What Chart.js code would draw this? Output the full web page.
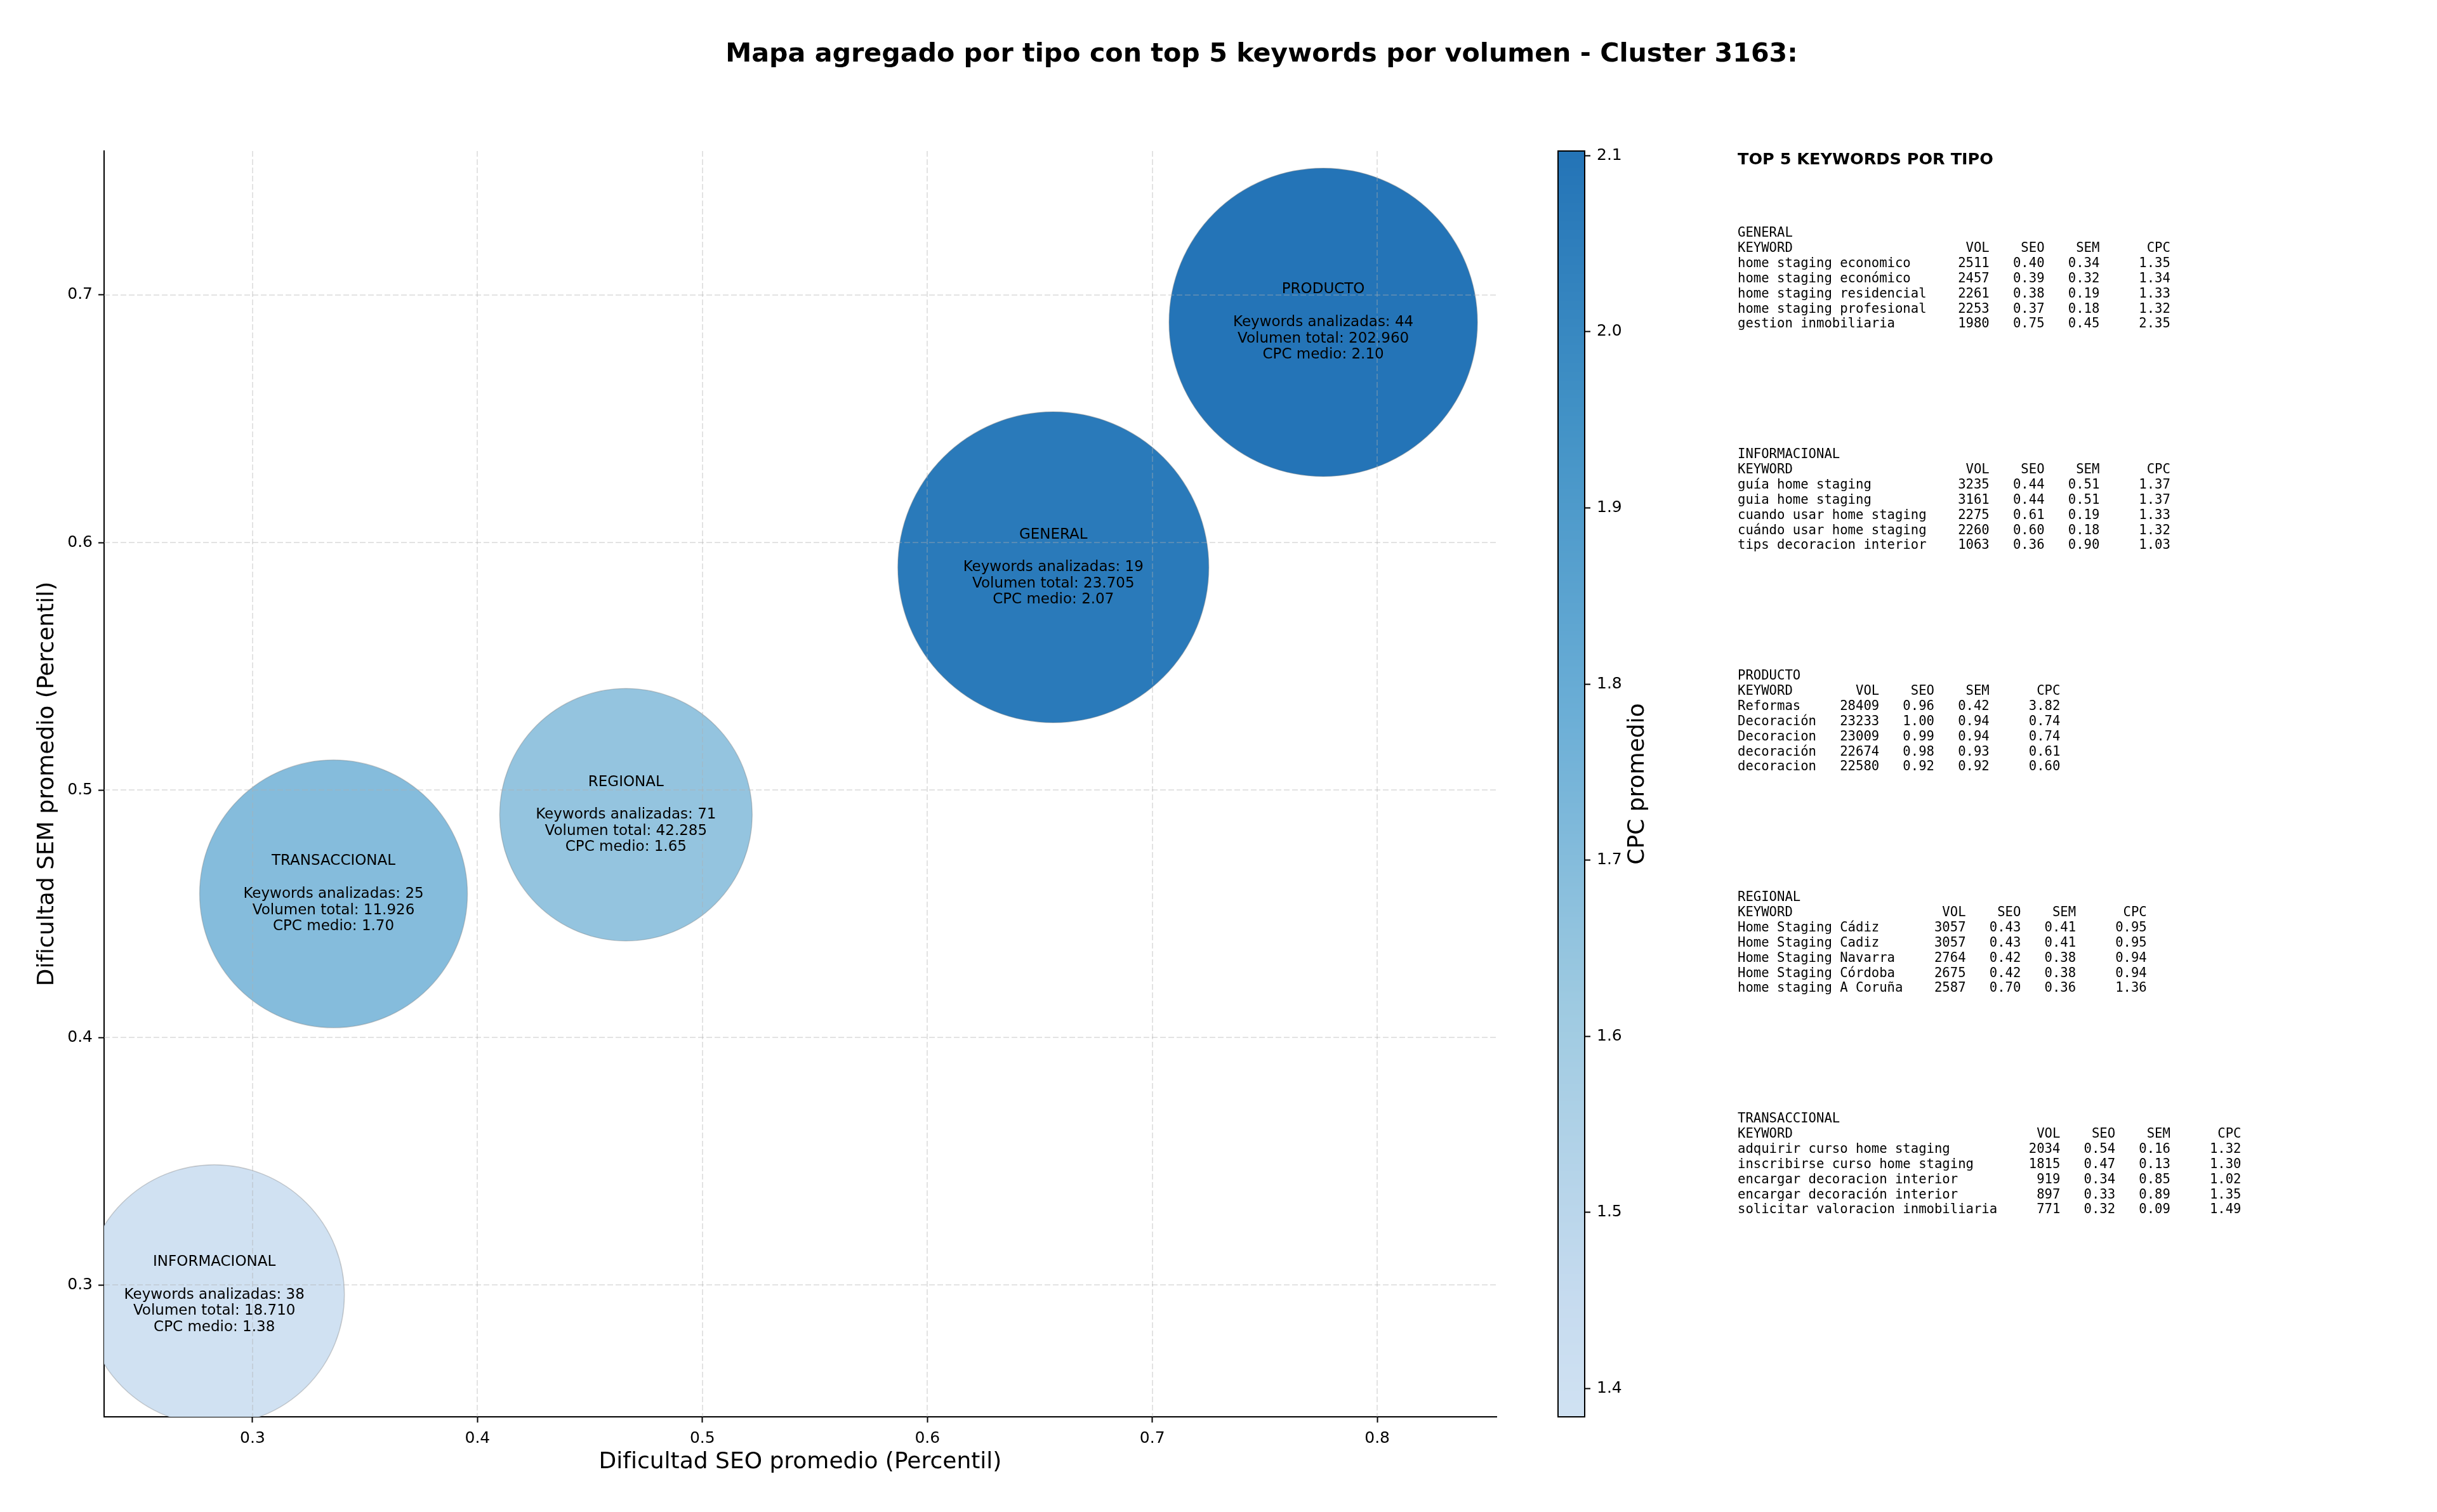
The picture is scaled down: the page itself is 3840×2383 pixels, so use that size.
<!DOCTYPE html>
<html lang="es">
<head>
  <meta charset="utf-8">
  <title>Mapa agregado por tipo - Cluster 3163</title>
  <script src="https://cdn.jsdelivr.net/npm/chart.js"></script>
  <style>
    html, body { margin: 0; padding: 0; background: #fff; }
    #wrap { position: relative; width: 3840px; height: 2383px; overflow: hidden; }
    #wrap canvas { position: absolute; top: 0; }
    #mapa { left: 0; }
    #barra { left: 2300px; }
  </style>
</head>
<body>
<div id="wrap">
  <canvas id="mapa" width="3840" height="2383"></canvas>
  <canvas id="barra" width="600" height="2383"></canvas>
</div>
<script>
// medias por tipo de keyword
const tipos = ['GENERAL', 'INFORMACIONAL', 'PRODUCTO', 'REGIONAL', 'TRANSACCIONAL'];
const seoMedio = [0.656, 0.283, 0.776, 0.466, 0.336];
const semMedio = [0.590, 0.296, 0.689, 0.490, 0.458];
const numKeywords = [19, 38, 44, 71, 25];
const volumenTotal = [23705, 18710, 202960, 42285, 11926];
const cpcMedio = [2.07, 1.38, 2.10, 1.65, 1.70];
const radioBurbuja = [245, 205, 243, 199, 211];

// ejes
const xMin = 0.234, xMax = 0.853;
const yMin = 0.2467, yMax = 0.7582;
const xTicks = [0.3, 0.4, 0.5, 0.6, 0.7, 0.8];
const yTicks = [0.3, 0.4, 0.5, 0.6, 0.7];
const cbMin = 1.384, cbMax = 2.1026;
const cbTicks = [1.4, 1.5, 1.6, 1.7, 1.8, 1.9, 2.0, 2.1];

// top 5 keywords: [keyword, vol, seo, sem, cpc]
const topGeneral = [
  ['home staging economico', 2511, 0.40, 0.34, 1.35],
  ['home staging económico', 2457, 0.39, 0.32, 1.34],
  ['home staging residencial', 2261, 0.38, 0.19, 1.33],
  ['home staging profesional', 2253, 0.37, 0.18, 1.32],
  ['gestion inmobiliaria', 1980, 0.75, 0.45, 2.35]
];
const topInformacional = [
  ['guía home staging', 3235, 0.44, 0.51, 1.37],
  ['guia home staging', 3161, 0.44, 0.51, 1.37],
  ['cuando usar home staging', 2275, 0.61, 0.19, 1.33],
  ['cuándo usar home staging', 2260, 0.60, 0.18, 1.32],
  ['tips decoracion interior', 1063, 0.36, 0.90, 1.03]
];
const topProducto = [
  ['Reformas', 28409, 0.96, 0.42, 3.82],
  ['Decoración', 23233, 1.00, 0.94, 0.74],
  ['Decoracion', 23009, 0.99, 0.94, 0.74],
  ['decoración', 22674, 0.98, 0.93, 0.61],
  ['decoracion', 22580, 0.92, 0.92, 0.60]
];
const topRegional = [
  ['Home Staging Cádiz', 3057, 0.43, 0.41, 0.95],
  ['Home Staging Cadiz', 3057, 0.43, 0.41, 0.95],
  ['Home Staging Navarra', 2764, 0.42, 0.38, 0.94],
  ['Home Staging Córdoba', 2675, 0.42, 0.38, 0.94],
  ['home staging A Coruña', 2587, 0.70, 0.36, 1.36]
];
const topTransaccional = [
  ['adquirir curso home staging', 2034, 0.54, 0.16, 1.32],
  ['inscribirse curso home staging', 1815, 0.47, 0.13, 1.30],
  ['encargar decoracion interior', 919, 0.34, 0.85, 1.02],
  ['encargar decoración interior', 897, 0.33, 0.89, 1.35],
  ['solicitar valoracion inmobiliaria', 771, 0.32, 0.09, 1.49]
];

Chart.defaults.font.family = '"DejaVu Sans", sans-serif';
Chart.defaults.color = '#000';

// paleta Blues recortada (0.2 - 0.75)
const blues = ['#f7fbff', '#deebf7', '#c6dbef', '#9ecae1', '#6baed6', '#4292c6', '#2171b5', '#08519c', '#08306b']
  .map(h => [parseInt(h.slice(1, 3), 16), parseInt(h.slice(3, 5), 16), parseInt(h.slice(5, 7), 16)]);
function colorCPC(v) {
  let t = (v - cbMin) / (cbMax - cbMin);
  t = Math.max(0, Math.min(1, t));
  const p = (0.2 + 0.54 * t) * (blues.length - 1);
  const i = Math.min(blues.length - 2, Math.floor(p)), f = p - i;
  const c = blues[i].map((a, k) => Math.round(a + (blues[i + 1][k] - a) * f));
  return `rgb(${c[0]},${c[1]},${c[2]})`;
}

function miles(v) {
  return String(v).replace(/\B(?=(\d{3})+(?!\d))/g, '.');
}

// rejilla por encima de las burbujas + textos de cada burbuja
const rejillaYEtiquetas = {
  id: 'rejillaYEtiquetas',
  afterDatasetsDraw(chart) {
    const { ctx, chartArea: a, scales: { x, y } } = chart;
    ctx.save();
    ctx.beginPath();
    ctx.rect(a.left, a.top, a.right - a.left, a.bottom - a.top);
    ctx.clip();
    ctx.strokeStyle = 'rgba(176,176,176,0.35)';
    ctx.lineWidth = 2;
    ctx.setLineDash([9, 4]);
    x.ticks.forEach(t => {
      const px = Math.round(x.getPixelForValue(t.value));
      ctx.beginPath(); ctx.moveTo(px, a.top); ctx.lineTo(px, a.bottom); ctx.stroke();
    });
    y.ticks.forEach(t => {
      const py = Math.round(y.getPixelForValue(t.value));
      ctx.beginPath(); ctx.moveTo(a.left, py); ctx.lineTo(a.right, py); ctx.stroke();
    });
    ctx.restore();

    ctx.save();
    ctx.font = '23px "DejaVu Sans"';
    ctx.fillStyle = '#000';
    ctx.textAlign = 'center';
    ctx.textBaseline = 'middle';
    tipos.forEach((t, i) => {
      const cx = x.getPixelForValue(seoMedio[i]);
      const cy = y.getPixelForValue(semMedio[i]);
      const lineas = [t, '', 'Keywords analizadas: ' + numKeywords[i],
        'Volumen total: ' + miles(volumenTotal[i]), 'CPC medio: ' + cpcMedio[i].toFixed(2)];
      lineas.forEach((l, k) => ctx.fillText(l, cx, cy + (k - 2) * 25.7));
    });
    ctx.restore();
  }
};

// titulo y panel de texto de la derecha
const textos = {
  id: 'textos',
  afterDraw(chart) {
    const ctx = chart.ctx;
    ctx.save();
    ctx.fillStyle = '#000';
    ctx.textAlign = 'center';
    ctx.textBaseline = 'alphabetic';
    ctx.font = 'bold 41.2px "DejaVu Sans"';
    ctx.fillText('Mapa agregado por tipo con top 5 keywords por volumen - Cluster 3163:', 1988, 97);

    ctx.textAlign = 'left';
    ctx.textBaseline = 'middle';
    ctx.font = 'bold 25.5px "DejaVu Sans"';
    ctx.fillText('TOP 5 KEYWORDS POR TIPO', 2738, 252);

    const grupos = [['GENERAL', topGeneral], ['INFORMACIONAL', topInformacional],
      ['PRODUCTO', topProducto], ['REGIONAL', topRegional], ['TRANSACCIONAL', topTransaccional]];
    ctx.font = '20.6px "DejaVu Sans Mono"';
    grupos.forEach(([nombre, filas], g) => {
      const L = Math.max(...filas.map(f => f[0].length));
      const lineas = [nombre,
        'KEYWORD'.padEnd(L) + 'VOL'.padStart(8) + 'SEO'.padStart(7) + 'SEM'.padStart(7) + 'CPC'.padStart(9)];
      filas.forEach(f => lineas.push(f[0].padEnd(L) + String(f[1]).padStart(8) +
        f[2].toFixed(2).padStart(7) + f[3].toFixed(2).padStart(7) + f[4].toFixed(2).padStart(9)));
      const y0 = 368 + g * 349;
      lineas.forEach((l, k) => ctx.fillText(l, 2738, y0 + k * 23.83));
    });
    ctx.restore();
  }
};

new Chart(document.getElementById('mapa'), {
  type: 'bubble',
  data: {
    datasets: [{
      data: tipos.map((t, i) => ({ x: seoMedio[i], y: semMedio[i], r: radioBurbuja[i] })),
      backgroundColor: cpcMedio.map(colorCPC),
      borderColor: 'rgba(120,120,120,0.35)',
      borderWidth: 1.5,
      clip: 0
    }]
  },
  options: {
    responsive: false,
    animation: false,
    devicePixelRatio: 1,
    events: [],
    layout: { autoPadding: false, padding: { left: 0, top: 238, right: 1482, bottom: 0 } },
    plugins: { legend: { display: false }, tooltip: { enabled: false } },
    scales: {
      x: {
        type: 'linear', min: xMin, max: xMax,
        afterBuildTicks: s => { s.ticks = xTicks.map(v => ({ value: v })); },
        afterFit: s => { s.height = 150; },
        ticks: { font: { size: 25 }, color: '#000', padding: 10, maxRotation: 0, autoSkip: false,
          callback: v => v.toFixed(1) },
        grid: { drawOnChartArea: false, drawTicks: true, tickLength: 9, tickWidth: 2, tickColor: '#000' },
        border: { display: true, color: '#000', width: 2 },
        title: { display: true, text: 'Dificultad SEO promedio (Percentil)', color: '#000',
          font: { size: 36, lineHeight: 1.2 }, padding: { top: 0, bottom: 57 } }
      },
      y: {
        type: 'linear', min: yMin, max: yMax,
        afterBuildTicks: s => { s.ticks = yTicks.map(v => ({ value: v })); },
        afterFit: s => { s.width = 164; },
        ticks: { font: { size: 25 }, color: '#000', padding: 9, autoSkip: false,
          callback: v => v.toFixed(1) },
        grid: { drawOnChartArea: false, drawTicks: true, tickLength: 9, tickWidth: 2, tickColor: '#000' },
        border: { display: true, color: '#000', width: 2 },
        title: { display: true, text: 'Dificultad SEM promedio (Percentil)', color: '#000',
          font: { size: 36, lineHeight: 1.2 }, padding: { top: 53, bottom: 0 } }
      }
    }
  },
  plugins: [rejillaYEtiquetas, textos]
});

// barra de color del CPC
const barraColor = {
  id: 'barraColor',
  beforeDatasetsDraw(chart) {
    const { ctx, chartArea: a, scales: { y } } = chart;
    ctx.save();
    for (let py = Math.floor(a.top); py < a.bottom; py++) {
      ctx.fillStyle = colorCPC(y.getValueForPixel(py + 0.5));
      ctx.fillRect(a.left, py, a.right - a.left, 1);
    }
    ctx.restore();
  },
  afterDraw(chart) {
    const { ctx, chartArea: a } = chart;
    ctx.save();
    ctx.strokeStyle = '#000';
    ctx.lineWidth = 2;
    ctx.strokeRect(a.left, a.top, a.right - a.left, a.bottom - a.top);
    ctx.translate(281, (a.top + a.bottom) / 2);
    ctx.rotate(-Math.PI / 2);
    ctx.fillStyle = '#000';
    ctx.textAlign = 'center';
    ctx.textBaseline = 'middle';
    ctx.font = '36px "DejaVu Sans"';
    ctx.fillText('CPC promedio', 0, 0);
    ctx.restore();
  }
};

new Chart(document.getElementById('barra'), {
  type: 'scatter',
  data: { datasets: [] },
  options: {
    responsive: false,
    animation: false,
    devicePixelRatio: 1,
    events: [],
    layout: { autoPadding: false, padding: { left: 155, top: 238, right: 283, bottom: 150 } },
    plugins: { legend: { display: false }, tooltip: { enabled: false } },
    scales: {
      x: { display: false, min: 0, max: 1 },
      y: {
        type: 'linear', position: 'right', min: cbMin, max: cbMax,
        afterBuildTicks: s => { s.ticks = cbTicks.map(v => ({ value: v })); },
        afterFit: s => { s.width = 120; },
        ticks: { font: { size: 25 }, color: '#000', padding: 10, autoSkip: false,
          callback: v => v.toFixed(1) },
        grid: { drawOnChartArea: false, drawTicks: true, tickLength: 9, tickWidth: 2, tickColor: '#000' },
        border: { display: false }
      }
    }
  },
  plugins: [barraColor]
});
</script>
</body>
</html>
